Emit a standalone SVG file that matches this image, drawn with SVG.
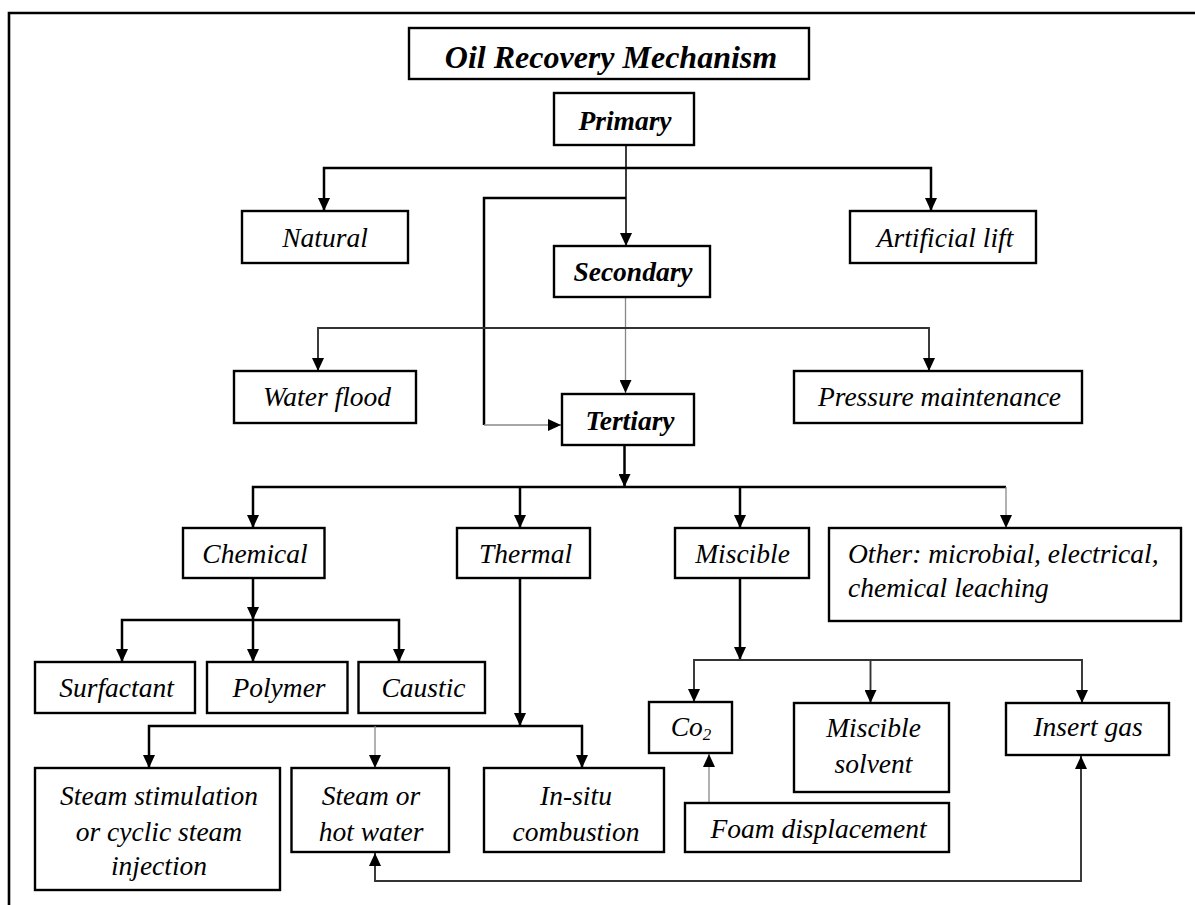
<svg xmlns="http://www.w3.org/2000/svg" width="1195" height="905" viewBox="0 0 1195 905">
<style>
.bx{fill:#fff;stroke:#000;stroke-width:2.4}
.t{font-family:"Liberation Serif","Times New Roman",serif;font-style:italic;font-size:27.5px;fill:#000;text-anchor:middle}
.b{font-weight:bold}
.tl{text-anchor:start}
.k{fill:none;stroke:#000;stroke-width:2.5}
.m{fill:none;stroke:#333;stroke-width:1.9}
.g{fill:none;stroke:#888;stroke-width:1.3}
</style>
<defs>
<marker id="ah" markerUnits="userSpaceOnUse" markerWidth="13" markerHeight="12" viewBox="0 0 13 12" refX="13" refY="6" orient="auto-start-reverse">
<path d="M0,0 L13,6 L0,12 z" fill="#000"/>
</marker>
</defs>
<rect width="1195" height="905" fill="#fff"/>
<path d="M9,905 V13 H1195" fill="none" stroke="#000" stroke-width="2.6"/>

<g id="connectors">
<path class="m" d="M626,145 V246" marker-end="url(#ah)"/>
<path class="k" d="M324,211 V168 H931 V211" marker-start="url(#ah)" marker-end="url(#ah)"/>
<path class="k" d="M626,198 H484 V425"/>
<path class="g" d="M484,425 H561" marker-end="url(#ah)"/>
<path class="g" d="M625.5,297 V393" marker-end="url(#ah)"/>
<path class="m" d="M318,371 V328 H929 V371" marker-start="url(#ah)" marker-end="url(#ah)"/>
<path class="k" d="M624.5,445 V487" marker-end="url(#ah)"/>
<path class="k" d="M253,528 V487 H1006" marker-start="url(#ah)"/>
<path class="k" d="M520,487 V528" marker-end="url(#ah)"/>
<path class="k" d="M740,487 V528" marker-end="url(#ah)"/>
<path class="g" d="M1006,487 V528" marker-end="url(#ah)"/>
<path class="k" d="M253,578 V620" marker-end="url(#ah)"/>
<path class="k" d="M122,662 V620 H399 V662" marker-start="url(#ah)" marker-end="url(#ah)"/>
<path class="k" d="M253,620 V662" marker-end="url(#ah)"/>
<path class="k" d="M520,578 V726" marker-end="url(#ah)"/>
<path class="k" d="M149,768 V726 H582 V768" marker-start="url(#ah)" marker-end="url(#ah)"/>
<path class="g" d="M375,726 V768" marker-end="url(#ah)"/>
<path class="k" d="M740,578 V660" marker-end="url(#ah)"/>
<path class="m" d="M694,702 V660 H1082 V703" marker-start="url(#ah)" marker-end="url(#ah)"/>
<path class="m" d="M870.5,660 V703" marker-end="url(#ah)"/>
<path class="g" d="M709,803 V754" marker-end="url(#ah)"/>
<path class="m" d="M375,853 V881 H1081 V756" stroke="#666" marker-start="url(#ah)" marker-end="url(#ah)"/>
</g>

<g id="title"><rect class="bx" x="409" y="28" width="400" height="51"/><text class="t b" x="611" y="68" font-size="32" style="font-size:32px">Oil Recovery Mechanism</text></g>
<g id="primary"><rect class="bx" x="554" y="93" width="140" height="52"/><text class="t b" x="625" y="130">Primary</text></g>
<g id="natural"><rect class="bx" x="242" y="211" width="166" height="52"/><text class="t" x="325" y="246.5">Natural</text></g>
<g id="artificial"><rect class="bx" x="850" y="211" width="186" height="52"/><text class="t" x="945" y="246.5">Artificial lift</text></g>
<g id="secondary"><rect class="bx" x="554" y="246" width="156" height="51"/><text class="t b" x="633" y="281">Secondary</text></g>
<g id="waterflood"><rect class="bx" x="234" y="371" width="182" height="52"/><text class="t" x="327" y="406">Water flood</text></g>
<g id="pressure"><rect class="bx" x="794" y="371" width="288" height="52"/><text class="t" x="939.5" y="406">Pressure maintenance</text></g>
<g id="tertiary"><rect class="bx" x="562" y="394" width="132" height="51"/><text class="t b" x="630" y="430">Tertiary</text></g>
<g id="chemical"><rect class="bx" x="183" y="528" width="141.5" height="50"/><text class="t" x="255" y="563">Chemical</text></g>
<g id="thermal"><rect class="bx" x="457" y="528" width="133" height="50"/><text class="t" x="525.5" y="563">Thermal</text></g>
<g id="miscible"><rect class="bx" x="675" y="528" width="134" height="50"/><text class="t" x="742.5" y="563">Miscible</text></g>
<g id="other"><rect class="bx" x="829" y="528" width="352" height="93"/><text class="t tl" x="848" y="563">Other: microbial, electrical,</text><text class="t tl" x="848" y="597">chemical leaching</text></g>
<g id="surfactant"><rect class="bx" x="35" y="662" width="160" height="51"/><text class="t" x="116.5" y="697">Surfactant</text></g>
<g id="polymer"><rect class="bx" x="207" y="662" width="140.5" height="51"/><text class="t" x="279" y="697">Polymer</text></g>
<g id="caustic"><rect class="bx" x="358.5" y="662" width="126.5" height="51"/><text class="t" x="423.5" y="697">Caustic</text></g>
<g id="steamstim"><rect class="bx" x="35" y="768" width="245" height="122"/><text class="t" x="159" y="805">Steam stimulation</text><text class="t" x="159" y="841">or cyclic steam</text><text class="t" x="159" y="875">injection</text></g>
<g id="steamhot"><rect class="bx" x="291.5" y="768" width="157.5" height="84"/><text class="t" x="371" y="805">Steam or</text><text class="t" x="371" y="841">hot water</text></g>
<g id="insitu"><rect class="bx" x="484" y="768" width="180" height="84"/><text class="t" x="576" y="805">In-situ</text><text class="t" x="576" y="841">combustion</text></g>
<g id="co2"><rect class="bx" x="649" y="702" width="83" height="51"/><text class="t" x="691" y="736">Co<tspan font-size="17" style="font-size:17px" dy="4">2</tspan></text></g>
<g id="misciblesolvent"><rect class="bx" x="794" y="703" width="155" height="89"/><text class="t" x="873.5" y="737">Miscible</text><text class="t" x="873.5" y="773">solvent</text></g>
<g id="insertgas"><rect class="bx" x="1006" y="703" width="163" height="52"/><text class="t" x="1088" y="736">Insert gas</text></g>
<g id="foam"><rect class="bx" x="685" y="803" width="264" height="49"/><text class="t" x="818.5" y="838">Foam displacement</text></g>
</svg>
